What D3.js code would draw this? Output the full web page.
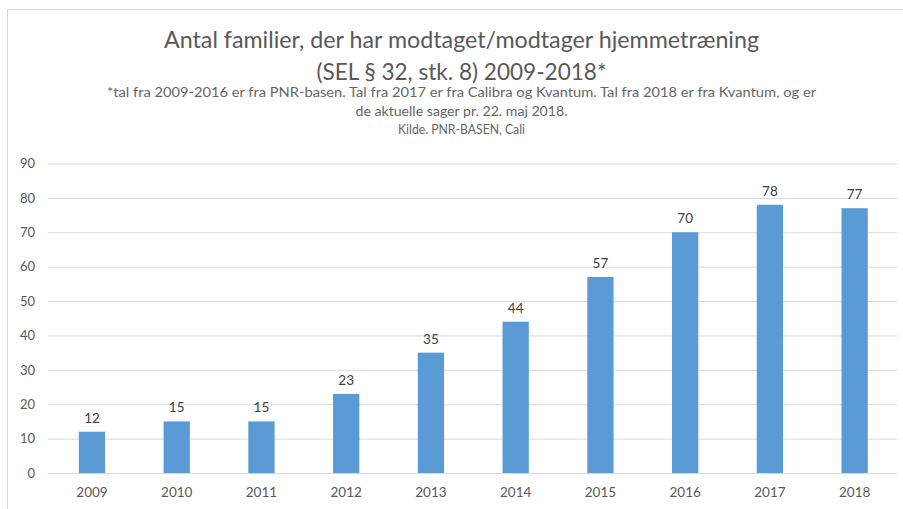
<!DOCTYPE html>
<html>
<head>
<meta charset="utf-8">
<script src="https://cdn.jsdelivr.net/npm/d3@7"></script>
<style>
  body { margin: 0; background: #fff; }
  svg { display: block; }
</style>
</head>
<body>
<svg id="chart" width="903" height="509"></svg>
<script>
const years = ['2009', '2010', '2011', '2012', '2013', '2014', '2015', '2016', '2017', '2018']
const families = [12, 15, 15, 23, 35, 44, 57, 70, 78, 77]
const yTicks = [0, 10, 20, 30, 40, 50, 60, 70, 80, 90]

const titleLines = [
  'Antal familier, der har modtaget/modtager hjemmetræning',
  '(SEL § 32, stk. 8) 2009-2018*'
]
const noteLines = [
  '*tal fra 2009-2016 er fra PNR-basen. Tal fra 2017 er fra Calibra og Kvantum. Tal fra 2018 er fra Kvantum, og er',
  'de aktuelle sager pr. 22. maj 2018.',
  'Kilde. PNR-BASEN, Cali'
]

const width = 903
const height = 509
const svg = d3.select('#chart')
const font = 'Lato, "Open Sans", sans-serif'

// chart frame
svg.append('rect')
  .attr('x', 7.5).attr('y', 9.5)
  .attr('width', width).attr('height', height)
  .attr('fill', 'none')
  .attr('stroke', '#d9d9d9')

const cx = 461.5

// title
const titleY = [48, 80]
const titleW = [595, 290]
titleLines.forEach((t, i) => {
  svg.append('text')
    .attr('x', cx).attr('y', titleY[i])
    .attr('text-anchor', 'middle')
    .attr('font-family', font)
    .attr('font-size', 23)
    .attr('fill', '#595959')
    .attr('textLength', titleW[i])
    .attr('lengthAdjust', 'spacingAndGlyphs')
    .text(t)
})

// footnote lines under the title
const noteY = [97, 116, 134]
const noteW = [709, 212, 127]
noteLines.forEach((t, i) => {
  svg.append('text')
    .attr('x', cx).attr('y', noteY[i])
    .attr('text-anchor', 'middle')
    .attr('font-family', font)
    .attr('font-size', 12.5)
    .attr('fill', '#666')
    .attr('textLength', noteW[i])
    .attr('lengthAdjust', 'spacingAndGlyphs')
    .text(t)
})

// scales
const x = d3.scaleBand()
  .domain(years)
  .range([49.6, 897])
  .paddingInner(0.69)
  .paddingOuter(0.345)

const y = d3.scaleLinear()
  .domain([0, 90])
  .range([473, 163.5])

// gridlines + y labels
const yAxis = svg.append('g')
  .attr('transform', 'translate(48,0)')
  .call(d3.axisLeft(y).tickValues(yTicks).tickSize(-(897 - 48)).tickPadding(13))
yAxis.select('.domain').remove()
yAxis.selectAll('.tick line').attr('stroke', '#d9d9d9').attr('stroke-width', 1)
yAxis.selectAll('.tick text')
  .attr('font-family', font)
  .attr('font-size', 13)
  .attr('fill', '#595959')

// x labels
const xAxis = svg.append('g')
  .attr('transform', 'translate(0,473)')
  .call(d3.axisBottom(x).tickSize(0).tickPadding(14))
xAxis.select('.domain').remove()
xAxis.selectAll('.tick text')
  .attr('font-family', font)
  .attr('font-size', 13.5)
  .attr('fill', '#595959')

// bars
const data = years.map((yr, i) => ({ year: yr, value: families[i] }))

svg.append('g')
  .selectAll('rect')
  .data(data)
  .join('rect')
  .attr('x', d => x(d.year))
  .attr('y', d => y(d.value))
  .attr('width', x.bandwidth())
  .attr('height', d => y(0) - y(d.value))
  .attr('fill', '#5b9bd5')

svg.append('g')
  .selectAll('text')
  .data(data)
  .join('text')
  .attr('x', d => x(d.year) + x.bandwidth() / 2)
  .attr('y', d => y(d.value) - 9)
  .attr('text-anchor', 'middle')
  .attr('font-family', font)
  .attr('font-size', 13.5)
  .attr('fill', '#404040')
  .text(d => d.value)
</script>
</body>
</html>
